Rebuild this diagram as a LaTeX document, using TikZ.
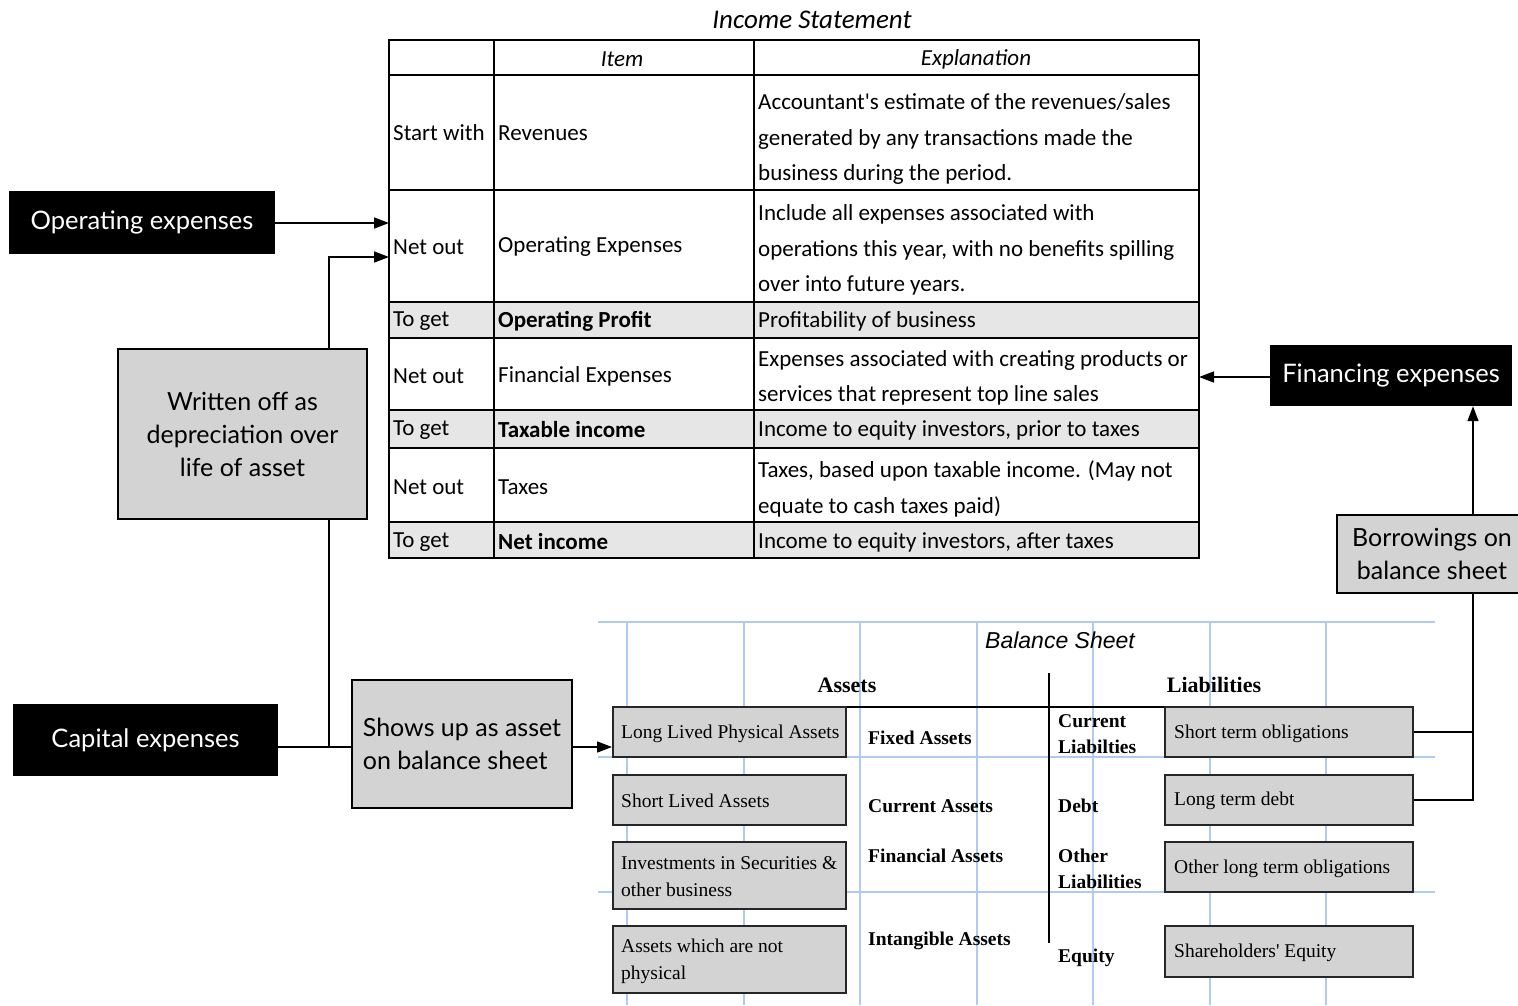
\documentclass[tikz,border=0pt]{standalone}
\usepackage{fontspec}
\setmainfont{Carlito}
\newfontfamily\avn{Lato}
\newfontfamily\tms{Liberation Serif}
\newfontfamily\arl{Liberation Sans}
\usetikzlibrary{arrows.meta}
\definecolor{boxgray}{HTML}{D3D3D3}
\definecolor{rowgray}{HTML}{E6E6E6}
\definecolor{gridblue}{HTML}{AFCBF2}
\tikzset{
  arr/.style={line width=1.5pt,-{Triangle[length=15pt,width=11pt]}},
  conn/.style={line width=1.5pt},
  blk/.style={fill=black,text=white,inner sep=0pt,font=\avn\fontsize{25.5}{30}\selectfont},
  gbox/.style={fill=boxgray,draw=black,line width=1.5pt,inner sep=0pt,align=center,font=\avn\fontsize{25}{33}\selectfont},
  bsbox/.style={fill=boxgray,draw=black!85,line width=2pt,inner sep=0pt},
  bstext/.style={anchor=west,align=left,inner sep=0pt,font=\tms\fontsize{19.5}{27}\selectfont},
  bslab/.style={anchor=west,align=left,inner sep=0pt,font=\tms\bfseries\fontsize{19.5}{26}\selectfont},
  cell/.style={anchor=west,inner sep=0pt,font=\fontsize{23}{35.5}\selectfont,align=left},
  bcell/.style={cell,font=\bfseries\fontsize{23}{35.5}\selectfont},
  tline/.style={line width=1.3pt},
  grid/.style={gridblue,line width=1.2pt}
}
\begin{document}
\begin{tikzpicture}[x=1pt,y=-1pt]
\useasboundingbox[fill=white] (0,0) rectangle (1518,1005);

% ---------- Income statement table ----------
\node[font=\itshape\fontsize{27}{32}\selectfont] (ist) at (812,20) {Income Statement};
\fill[rowgray] (389,302) rectangle (1199,338);
\fill[rowgray] (389,410) rectangle (1199,448);
\fill[rowgray] (389,522) rectangle (1199,558);
\foreach \yy in {75,190,302,338,410,522}{\draw[tline] (389,\yy) -- (1199,\yy);}
\draw[line width=2.5pt] (389,448) -- (1199,448);
\draw[tline] (494,40) -- (494,558);
\draw[tline] (754,40) -- (754,558);
\node[draw,line width=2.5pt,minimum width=810pt,minimum height=518pt,inner sep=0pt] (tbl) at (794,299) {};

\node[font=\itshape\fontsize{23}{28}\selectfont] (hitem) at (622,59) {Item};
\node[font=\itshape\fontsize{23}{28}\selectfont] (hexp) at (976,59) {Explanation};

\node[cell] (c11) at (393,133) {Start with};
\node[cell] (c12) at (498,133) {Revenues};
\node[cell] (c13) at (758,139) {Accountant\textquotesingle s estimate of the revenues/sales\\generated by any transactions made the\\business during the period.};

\node[cell] (c21) at (393,247) {Net out};
\node[cell] (c22) at (498,247) {Operating Expenses};
\node[cell] (c23) at (758,250) {Include all expenses associated with\\operations this year, with no benefits spilling\\over into future years.};

\node[cell] (c31) at (393,321) {To get};
\node[bcell] (c32) at (498,321) {Operating Profit};
\node[cell] (c33) at (758,321) {Profitability of business};

\node[cell] (c41) at (393,376) {Net out};
\node[cell] (c42) at (498,376) {Financial Expenses};
\node[cell] (c43) at (758,378) {Expenses associated with creating products or\\services that represent top line sales};

\node[cell] (c51) at (393,430) {To get};
\node[bcell] (c52) at (498,430) {Taxable income};
\node[cell] (c53) at (758,430) {Income to equity investors, prior to taxes};

\node[cell] (c61) at (393,487) {Net out};
\node[cell] (c62) at (498,487) {Taxes};
\node[cell] (c63) at (758,489) {Taxes, based upon taxable income. (May not\\equate to cash taxes paid)};

\node[cell] (c71) at (393,542) {To get};
\node[bcell] (c72) at (498,542) {Net income};
\node[cell] (c73) at (758,542) {Income to equity investors, after taxes};

\coordinate (opin) at (389,223);
\coordinate (depin) at (389,257);
\coordinate (finin) at (1199,377);
\coordinate (vx) at (329,0);
\coordinate (rx) at (1473,0);
\coordinate (cy) at (0,747);

% ---------- Left side ----------
\node[blk,minimum width=266pt,minimum height=63pt] (opex) at (142,222.5) {Operating expenses};
\node[gbox,minimum width=249pt,minimum height=170pt] (wo) at (242.5,434) {Written off as\\depreciation over\\life of asset};
\node[blk,minimum width=265pt,minimum height=72pt] (capx) at (145.5,740) {Capital expenses};
\node[gbox,minimum width=220pt,minimum height=128pt,align=left] (shows) at (462,744) {Shows up as asset\\on balance sheet};

% ---------- Right side ----------
\node[blk,minimum width=242pt,minimum height=61pt] (fin) at (1391,375.5) {Financing expenses};
\node[gbox,minimum width=190pt,minimum height=78pt] (bor) at (1432,554) {Borrowings on\\balance sheet};

% ---------- Balance sheet ----------
\foreach \yy in {622,757,892}{\draw[grid] (598,\yy) -- (1435,\yy);}
\foreach \xx in {627,744,860,977,1093,1210,1326}{\draw[grid] (\xx,622) -- (\xx,1005);}
\node[font=\arl\itshape\fontsize{23}{28}\selectfont] (bst) at (1060,640) {Balance Sheet};
\node[font=\tms\bfseries\fontsize{22}{26}\selectfont] (assets) at (847,685) {Assets};
\node[font=\tms\bfseries\fontsize{22}{26}\selectfont] (liab) at (1214,685) {Liabilities};
\draw[line width=1.3pt] (613,707) -- (1413,707);
\draw[line width=1.3pt] (1049,673) -- (1049,943);

\node[bsbox,minimum width=233pt,minimum height=50pt] (llpa) at (729.5,732) {};
\node[bstext] (t1) at (621,734) {Long Lived Physical Assets};
\node[bsbox,minimum width=233pt,minimum height=50pt] (sla) at (729.5,800) {};
\node[bstext] (t2) at (621,801) {Short Lived Assets};
\node[bsbox,minimum width=233pt,minimum height=67pt] (inv) at (729.5,875.5) {};
\node[bstext] (t3) at (621,877) {Investments in Securities \&\\other business};
\node[bsbox,minimum width=233pt,minimum height=67pt] (anp) at (729.5,959.5) {};
\node[bstext] (t4) at (621,961) {Assets which are not\\physical};

\node[bslab] (m1) at (868,738) {Fixed Assets};
\node[bslab] (m2) at (868,806) {Current Assets};
\node[bslab] (m3) at (868,856) {Financial Assets};
\node[bslab] (m4) at (868,941) {Intangible Assets};

\node[bslab] (l1) at (1058,734) {Current\\Liabilties};
\node[bslab] (l2) at (1058,806) {Debt};
\node[bslab] (l3) at (1058,869) {Other\\Liabilities};
\node[bslab] (l4) at (1058,958) {Equity};

\node[bsbox,minimum width=248pt,minimum height=50pt] (sto) at (1289,732) {};
\node[bstext] (r1) at (1174,734) {Short term obligations};
\node[bsbox,minimum width=248pt,minimum height=50pt] (ltd) at (1289,800) {};
\node[bstext] (r2) at (1174,801) {Long term debt};
\node[bsbox,minimum width=248pt,minimum height=50pt] (olt) at (1289,867) {};
\node[bstext] (r3) at (1174,869) {Other long term obligations};
\node[bsbox,minimum width=248pt,minimum height=51pt] (she) at (1289,951.5) {};
\node[bstext] (r4) at (1174,953) {Shareholders\textquotesingle{} Equity};

% ---------- Connectors ----------
\draw[arr] (opex.east |- opin) -- (opin);
\draw[arr] (wo.north -| vx) |- (depin);
\draw[conn] (wo.south -| vx) -- (vx |- cy);
\draw[conn] (capx.east |- cy) -- (shows.west |- cy);
\draw[arr] (shows.east |- cy) -- (llpa.west |- cy);
\draw[conn] (sto.east) -- (sto.east -| rx);
\draw[conn] (ltd.east) -- (ltd.east -| rx) -- (bor.south -| rx);
\draw[arr] (bor.north -| rx) -- (fin.south -| rx);
\draw[arr] (fin.west |- finin) -- (finin);
\end{tikzpicture}
\end{document}
